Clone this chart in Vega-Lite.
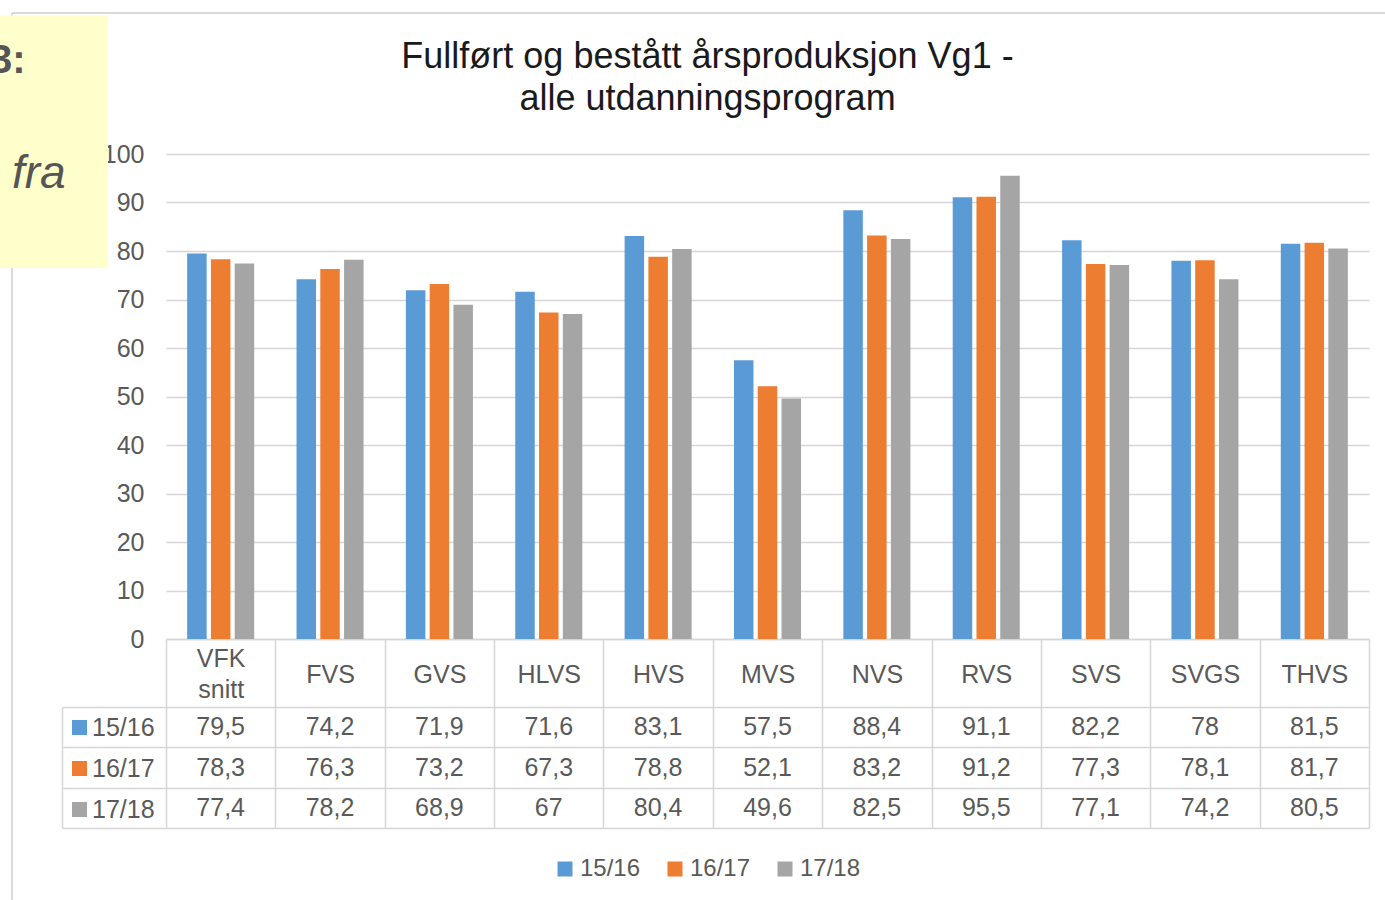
{
  "$schema": "https://vega.github.io/schema/vega-lite/v6.json",
  "autosize": {"type": "none"},
  "padding": {"left": 166, "top": 154, "right": 16, "bottom": 261},
  "width": 1203,
  "height": 485,
  "background": "white",
  "config": {
    "locale": {"number": {"decimal": ",", "thousands": " ", "grouping": [3], "currency": ["", ""]}},
    "font": "Liberation Sans",
    "view": {"stroke": null},
    "legend": {"symbolType": "square", "padding": 0, "symbolStrokeWidth": 0}
  },
  "title": {
    "text": ["Fullført og bestått årsproduksjon Vg1 -", "alle utdanningsprogram"],
    "font": "Liberation Sans",
    "fontSize": 36,
    "fontWeight": "normal",
    "color": "#1a1a1a",
    "anchor": "middle",
    "frame": "group",
    "dx": -60,
    "dy": 150,
    "offset": 44,
    "lineHeight": 42
  },
  "datasets": {
    "main": [
      {"prog": "VFK snitt", "year": "15/16", "value": 79.5},
      {"prog": "VFK snitt", "year": "16/17", "value": 78.3},
      {"prog": "VFK snitt", "year": "17/18", "value": 77.4},
      {"prog": "FVS", "year": "15/16", "value": 74.2},
      {"prog": "FVS", "year": "16/17", "value": 76.3},
      {"prog": "FVS", "year": "17/18", "value": 78.2},
      {"prog": "GVS", "year": "15/16", "value": 71.9},
      {"prog": "GVS", "year": "16/17", "value": 73.2},
      {"prog": "GVS", "year": "17/18", "value": 68.9},
      {"prog": "HLVS", "year": "15/16", "value": 71.6},
      {"prog": "HLVS", "year": "16/17", "value": 67.3},
      {"prog": "HLVS", "year": "17/18", "value": 67},
      {"prog": "HVS", "year": "15/16", "value": 83.1},
      {"prog": "HVS", "year": "16/17", "value": 78.8},
      {"prog": "HVS", "year": "17/18", "value": 80.4},
      {"prog": "MVS", "year": "15/16", "value": 57.5},
      {"prog": "MVS", "year": "16/17", "value": 52.1},
      {"prog": "MVS", "year": "17/18", "value": 49.6},
      {"prog": "NVS", "year": "15/16", "value": 88.4},
      {"prog": "NVS", "year": "16/17", "value": 83.2},
      {"prog": "NVS", "year": "17/18", "value": 82.5},
      {"prog": "RVS", "year": "15/16", "value": 91.1},
      {"prog": "RVS", "year": "16/17", "value": 91.2},
      {"prog": "RVS", "year": "17/18", "value": 95.5},
      {"prog": "SVS", "year": "15/16", "value": 82.2},
      {"prog": "SVS", "year": "16/17", "value": 77.3},
      {"prog": "SVS", "year": "17/18", "value": 77.1},
      {"prog": "SVGS", "year": "15/16", "value": 78},
      {"prog": "SVGS", "year": "16/17", "value": 78.1},
      {"prog": "SVGS", "year": "17/18", "value": 74.2},
      {"prog": "THVS", "year": "15/16", "value": 81.5},
      {"prog": "THVS", "year": "16/17", "value": 81.7},
      {"prog": "THVS", "year": "17/18", "value": 80.5}
    ]
  },
  "resolve": {
    "scale": {"x": "independent", "y": "independent", "color": "independent"},
    "axis": {"x": "independent", "y": "independent"},
    "legend": {"color": "independent"}
  },
  "layer": [
    {
      "data": {"name": "main"},
      "mark": {"type": "bar"},
      "encoding": {
        "x": {"field": "prog", "type": "nominal", "sort": null,
              "scale": {"paddingInner": 0.387, "paddingOuter": 0.1935}, "axis": null},
        "xOffset": {"field": "year", "type": "nominal",
                    "scale": {"paddingInner": 0.18, "paddingOuter": 0}},
        "y": {"field": "value", "type": "quantitative",
              "scale": {"domain": [0, 100], "nice": false},
              "axis": {"values": [0, 10, 20, 30, 40, 50, 60, 70, 80, 90, 100],
                       "grid": true, "gridColor": "#d6d6d6", "gridWidth": 1.5,
                       "domain": false, "ticks": false, "labelPadding": 22,
                       "labelFontSize": 25, "labelColor": "#595959",
                       "labelFont": "Liberation Sans", "title": null, "orient": "left"}},
        "color": {"field": "year", "type": "nominal",
                  "scale": {"domain": ["15/16", "16/17", "17/18"], "range": ["#5b9bd5", "#ed7d31", "#a5a5a5"]},
                  "legend": {"orient": "none", "direction": "horizontal", "legendX": 387, "legendY": 703,
                             "title": null, "symbolType": "square", "symbolSize": 225, "symbolStrokeWidth": 0,
                             "labelFontSize": 24, "labelColor": "#595959", "labelOffset": 3,
                             "columnPadding": 22, "labelFont": "Liberation Sans"}}
      }
    },
    {
      "data": {"name": "main"},
      "mark": {"type": "text", "fontSize": 25, "color": "#595959", "baseline": "middle", "align": "center", "font": "Liberation Sans"},
      "encoding": {
        "x": {"field": "prog", "type": "nominal", "sort": null,
              "scale": {"paddingInner": 0, "paddingOuter": 0},
              "axis": {"orient": "bottom", "tickBand": "extent", "ticks": true, "tickSize": 189,
                       "tickColor": "#d6d6d6", "tickWidth": 1.5, "domain": true, "domainColor": "#d6d6d6",
                       "domainWidth": 1.5, "grid": false, "labelAngle": 0, "labelFontSize": 25,
                       "labelColor": "#595959", "labelFont": "Liberation Sans",
                       "labelPadding": {"condition": {"test": "datum.value == 'VFK snitt'", "value": -169.5}, "value": -154},
                       "labelBaseline": "middle", "labelLineHeight": 31,
                       "labelExpr": "datum.value == 'VFK snitt' ? ['VFK', 'snitt'] : datum.label",
                       "title": null}},
        "y": {"field": "year", "type": "nominal",
              "scale": {"domain": ["15/16", "16/17", "17/18"], "range": [553, 674], "paddingInner": 0, "paddingOuter": 0},
              "axis": {"orient": "left", "offset": 104, "tickBand": "extent", "ticks": true, "tickSize": -104,
                       "tickColor": "#d6d6d6", "tickWidth": 1.5, "grid": true, "gridColor": "#d6d6d6",
                       "gridWidth": 1.5, "domain": true, "domainColor": "#d6d6d6", "domainWidth": 1.5,
                       "labels": false, "title": null}},
        "text": {"field": "value", "type": "quantitative", "format": ".1~f"}
      }
    },
    {
      "data": {"name": "main"},
      "mark": {"type": "square", "opacity": 0},
      "encoding": {
        "color": {"field": "year", "type": "nominal",
                  "scale": {"domain": ["15/16", "16/17", "17/18"], "range": ["#5b9bd5", "#ed7d31", "#a5a5a5"]},
                  "legend": {"orient": "none", "direction": "vertical", "legendX": -99, "legendY": 561,
                             "title": null, "symbolType": "square", "symbolSize": 225, "symbolOpacity": 1,
                             "symbolStrokeWidth": 0, "labelFontSize": 25, "labelColor": "#595959",
                             "labelOffset": 0, "rowPadding": 15, "labelFont": "Liberation Sans"}}
      }
    },
    {
      "data": {"values": [{"item": "frame"}]},
      "layer": [
        {
          "mark": {"type": "rule", "color": "#d9d9d9", "strokeWidth": 2},
          "encoding": {
            "x": {"datum": 12, "type": "quantitative", "scale": {"domain": [0, 1385], "range": [-166, 1219], "nice": false, "zero": false}, "axis": null},
            "x2": {"datum": 1385},
            "y": {"datum": 13, "type": "quantitative", "scale": {"domain": [0, 900], "range": [-154, 746], "nice": false, "zero": false}, "axis": null}
          }
        },
        {
          "mark": {"type": "rule", "color": "#d9d9d9", "strokeWidth": 2},
          "encoding": {
            "x": {"datum": 12, "type": "quantitative", "scale": {"domain": [0, 1385], "range": [-166, 1219], "nice": false, "zero": false}, "axis": null},
            "y": {"datum": 13, "type": "quantitative", "scale": {"domain": [0, 900], "range": [-154, 746], "nice": false, "zero": false}, "axis": null},
            "y2": {"datum": 900}
          }
        },
        {
          "mark": {"type": "rect", "color": "#ffffcc"},
          "encoding": {
            "x": {"datum": 0, "type": "quantitative", "scale": {"domain": [0, 1385], "range": [-166, 1219], "nice": false, "zero": false}, "axis": null},
            "x2": {"datum": 108},
            "y": {"datum": 15.5, "type": "quantitative", "scale": {"domain": [0, 900], "range": [-154, 746], "nice": false, "zero": false}, "axis": null},
            "y2": {"datum": 268}
          }
        },
        {
          "mark": {"type": "text", "text": "3:", "fontSize": 40, "fontWeight": "bold", "color": "#555555", "align": "left", "baseline": "alphabetic", "font": "Liberation Sans"},
          "encoding": {
            "x": {"datum": -10, "type": "quantitative", "scale": {"domain": [0, 1385], "range": [-166, 1219], "nice": false, "zero": false}, "axis": null},
            "y": {"datum": 73, "type": "quantitative", "scale": {"domain": [0, 900], "range": [-154, 746], "nice": false, "zero": false}, "axis": null}
          }
        },
        {
          "mark": {"type": "text", "text": "fra", "fontSize": 46, "fontStyle": "italic", "color": "#555555", "align": "left", "baseline": "alphabetic", "font": "Liberation Sans"},
          "encoding": {
            "x": {"datum": 12, "type": "quantitative", "scale": {"domain": [0, 1385], "range": [-166, 1219], "nice": false, "zero": false}, "axis": null},
            "y": {"datum": 188, "type": "quantitative", "scale": {"domain": [0, 900], "range": [-154, 746], "nice": false, "zero": false}, "axis": null}
          }
        }
      ]
    }
  ]
}
